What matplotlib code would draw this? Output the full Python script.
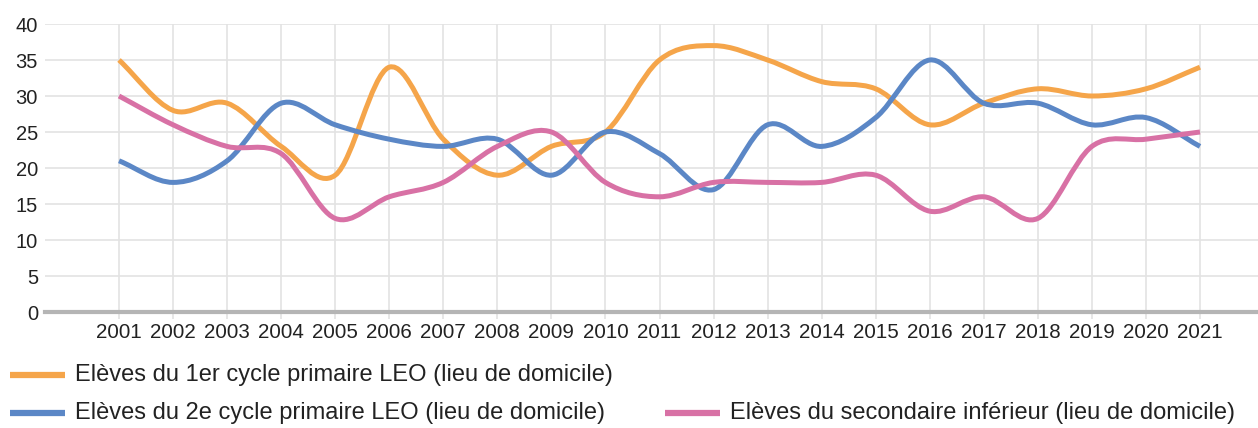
import numpy as np
import matplotlib
matplotlib.use("Agg")
import matplotlib.pyplot as plt
from matplotlib.path import Path
from matplotlib.patches import PathPatch
from matplotlib.lines import Line2D

years = list(range(2001, 2022))
year_labels = [str(y) for y in years]

s1_name = "Elèves du 1er cycle primaire LEO (lieu de domicile)"
s2_name = "Elèves du 2e cycle primaire LEO (lieu de domicile)"
s3_name = "Elèves du secondaire inférieur (lieu de domicile)"

s1 = [35, 28, 29, 23, 19, 34, 24, 19, 23, 25, 35, 37, 35, 32, 31, 26, 29, 31, 30, 31, 34]
s2 = [21, 18, 21, 29, 26, 24, 23, 24, 19, 25, 22, 17, 26, 23, 27, 35, 29, 29, 26, 27, 23]
s3 = [30, 26, 23, 22, 13, 16, 18, 23, 25, 18, 16, 18, 18, 18, 19, 14, 16, 13, 23, 24, 25]

colors = ["#f5a54a", "#5b87c6", "#d871a5"]

plt.rcParams['font.family'] = ['Liberation Sans', 'DejaVu Sans']

W, H = 1258, 428
fig = plt.figure(figsize=(W / 100, H / 100), dpi=100)
ax = fig.add_axes([45 / W, (H - 312) / H, (W - 45) / W, (312 - 24) / H])

def smooth_path(x, y):
    x = np.asarray(x, float)
    y = np.asarray(y, float)
    n = len(x)
    m = np.empty(n)
    m[1:-1] = (y[2:] - y[:-2]) / (x[2:] - x[:-2])
    m[0] = (y[1] - y[0]) / (x[1] - x[0])
    m[-1] = (y[-1] - y[-2]) / (x[-1] - x[-2])
    verts = [(x[0], y[0])]
    codes = [Path.MOVETO]
    for i in range(n - 1):
        h = (x[i + 1] - x[i]) / 3
        verts += [(x[i] + h, y[i] + m[i] * h),
                  (x[i + 1] - h, y[i + 1] - m[i + 1] * h),
                  (x[i + 1], y[i + 1])]
        codes += [Path.CURVE4] * 3
    return Path(verts, codes)

for vals, c in zip([s1, s2, s3], colors):
    p = smooth_path(years, vals)
    ax.add_patch(PathPatch(p, facecolor='none', edgecolor=c, lw=3.6,
                           capstyle='butt', joinstyle='round', zorder=3))

ax.set_xlim(2001 - 74 / 54.05, 2021 + 58 / 54.05)
ax.set_ylim(0, 40)
ax.set_yticks(range(0, 41, 5))
ax.set_xticks(years)
ax.set_xticklabels(year_labels)
ax.grid(True, color="#e3e3e3", lw=1.2, zorder=0)
for sp in ["top", "right", "left"]:
    ax.spines[sp].set_visible(False)
ax.spines["bottom"].set_color("#b5b5b5")
ax.spines["bottom"].set_linewidth(3)
ax.spines["bottom"].set_zorder(2)
ax.tick_params(axis='y', length=0, labelsize=14.5, pad=5, labelcolor="#222222")
ax.tick_params(axis='x', length=5, width=1.2, color="#e3e3e3", labelsize=14.8,
               pad=3, labelcolor="#222222")

legend_pos = [(10, 375), (10, 413), (665, 413)]
names = [s1_name, s2_name, s3_name]
for (lx, ly), c, name in zip(legend_pos, colors, names):
    fig.add_artist(Line2D([lx / W, (lx + 55) / W], [1 - ly / H, 1 - ly / H],
                          color=c, lw=4.5, solid_capstyle='butt'))
    fig.text((lx + 65) / W, 1 - ly / H, name, fontsize=17, color="#222222",
             va='center', ha='left')

fig.savefig("out.png", dpi=100)
